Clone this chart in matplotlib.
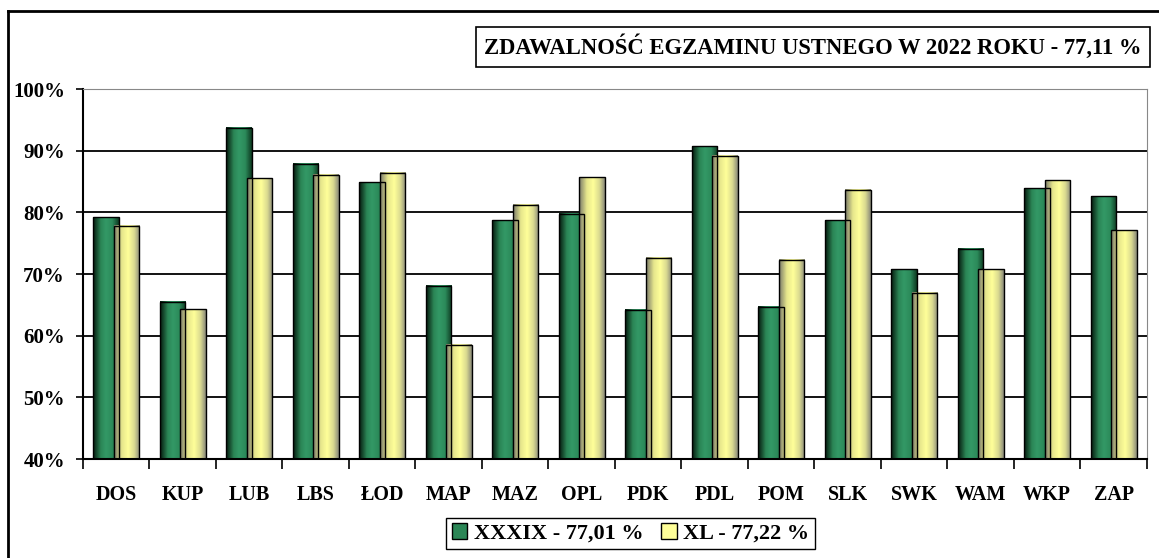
import numpy as np
import matplotlib
matplotlib.use('Agg')
import matplotlib.pyplot as plt
from matplotlib.colors import LinearSegmentedColormap
from matplotlib.patches import Rectangle
from matplotlib.lines import Line2D
from matplotlib.ticker import FuncFormatter

plt.rcParams['font.family'] = ['Liberation Serif', 'DejaVu Serif']
plt.rcParams['font.weight'] = 'bold'

# data
regions = ['DOS', 'KUP', 'LUB', 'LBS', 'ŁOD', 'MAP', 'MAZ', 'OPL',
           'PDK', 'PDL', 'POM', 'SLK', 'SWK', 'WAM', 'WKP', 'ZAP']
xxxix = [79.2, 65.5, 93.7, 87.9, 84.9, 68.1, 78.7, 79.8,
         64.2, 90.7, 64.7, 78.7, 70.8, 74.1, 83.9, 82.6]
xl = [77.8, 64.3, 85.5, 86.1, 86.4, 58.5, 81.2, 85.7,
      72.6, 89.2, 72.3, 83.7, 67.0, 70.8, 85.2, 77.1]
series_labels = ['XXXIX - 77,01 %', 'XL - 77,22 %']
title = 'ZDAWALNOŚĆ EGZAMINU USTNEGO W 2022 ROKU - 77,11 %'

green_cmap = LinearSegmentedColormap.from_list(
    'g', [(0, '#061a0e'), (0.3, '#2b8656'), (0.5, '#339966'), (0.75, '#2c8a5a'), (1, '#0e3a22')])
yellow_cmap = LinearSegmentedColormap.from_list(
    'y', [(0, '#7a7a6a'), (0.3, '#e6e68c'), (0.55, '#ffff99'), (0.8, '#d8d890'), (1, '#8a8a7a')])

fig = plt.figure(figsize=(11.59, 5.58), dpi=100)
ax = fig.add_axes([0.0716, 0.1774, 0.918, 0.6631])

ymin, ymax = 40, 100
x = np.arange(len(regions))
width = 0.385
off = 0.155
grad = np.linspace(0, 1, 64).reshape(1, -1)

for vals, shift, cmap in [(xxxix, -off, green_cmap), (xl, off, yellow_cmap)]:
    bars = ax.bar(x + shift, vals, width, facecolor='none', edgecolor='black', linewidth=1.0, zorder=3)
    for b in bars:
        x0 = b.get_x()
        ax.imshow(grad, cmap=cmap, aspect='auto', zorder=2,
                  extent=(x0, x0 + b.get_width(), ymin, b.get_height()))

ax.set_xlim(-0.5, len(regions) - 0.5)
ax.set_ylim(ymin, ymax)

ax.set_yticks(np.arange(40, 101, 10))
ax.yaxis.set_major_formatter(FuncFormatter(lambda v, p: f'{v:.0f}%'))
ax.tick_params(axis='y', length=5, width=1.2, pad=8, labelsize=15)
ax.yaxis.grid(True, color='black', linewidth=1.3)
ax.set_axisbelow(True)

ax.set_xticks(x)
ax.set_xticklabels(regions)
ax.set_xticks(np.arange(len(regions) + 1) - 0.5, minor=True)
ax.tick_params(axis='x', which='major', length=0, pad=19, labelsize=14.5)
ax.tick_params(axis='x', which='minor', length=7, width=1.2)

ax.spines['left'].set_linewidth(1.5)
ax.spines['bottom'].set_linewidth(1.5)
ax.spines['top'].set_color('#888888')
ax.spines['right'].set_color('#888888')

# title box
fig.text(0.7015, 0.916, title, ha='center', va='center', fontsize=16.3, fontweight='bold',
         bbox=dict(boxstyle='square,pad=0.35', fc='white', ec='black', lw=1.2))

# legend
handles = [Rectangle((0, 0), 1, 1, fc='#2b8656', ec='black', lw=1),
           Rectangle((0, 0), 1, 1, fc='#ffff99', ec='black', lw=1)]
fig.legend(handles, series_labels, loc='center', bbox_to_anchor=(0.544, 0.044), ncol=2,
           fontsize=16, frameon=True, fancybox=False, edgecolor='black', framealpha=1,
           handlelength=0.7, handleheight=0.7, handletextpad=0.3, columnspacing=0.8,
           borderpad=0.25, borderaxespad=0)

# outer chart border (left and top visible)
fig.add_artist(Line2D([8 / 1159, 8 / 1159], [0, 1 - 11 / 558], transform=fig.transFigure,
                      color='black', lw=2))
fig.add_artist(Line2D([8 / 1159, 1], [1 - 11 / 558, 1 - 11 / 558], transform=fig.transFigure,
                      color='black', lw=2))

fig.savefig('out.png', dpi=100)
